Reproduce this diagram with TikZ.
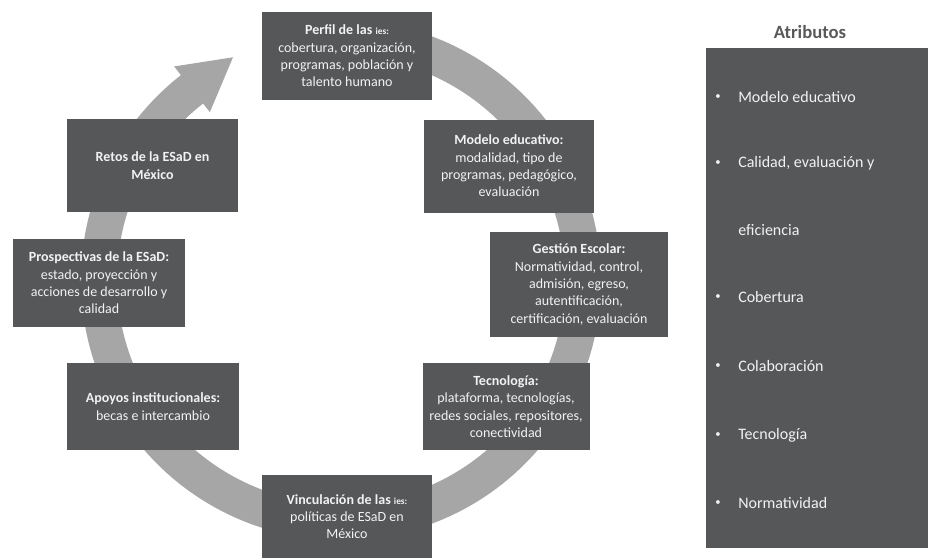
\documentclass[tikz,border=0pt]{standalone}
\usepackage{fontspec}
\setmainfont{Carlito}
\usetikzlibrary{calc,backgrounds}
\definecolor{boxgray}{RGB}{85,87,89}
\definecolor{ringgray}{RGB}{166,166,166}
\definecolor{titlegray}{RGB}{89,89,89}
\definecolor{lighttext}{RGB}{242,242,242}

\begin{document}
\begin{tikzpicture}[x=0.75pt,y=0.75pt,
  every node/.style={font=\fontsize{10.5}{13}\selectfont},
  topic/.style={fill=boxgray, text=lighttext, align=center, inner sep=3pt},
  sz/.style 2 args={minimum width=#1*0.75pt, minimum height=#2*0.75pt},
  attr/.style={text=lighttext, anchor=west, inner sep=0pt,
    font=\fontsize{12}{14}\selectfont},
  dot/.style={text=lighttext, inner sep=0pt, font=\fontsize{8}{8}\selectfont},
  ring/.style={ringgray, line width=27pt},
]
\useasboundingbox (0,0) rectangle (940,-558);

\coordinate (C) at (341,-280);

\node[topic, sz={170}{88}]  at (347,-56)    (perfil)  {\textbf{Perfil de las {\scriptsize ies:}}\\cobertura, organización,\\programas, población y\\talento humano};
\node[topic, sz={170}{93}]  at (509,-166)   (modelo)  {\textbf{Modelo educativo:}\\modalidad, tipo de\\programas, pedagógico,\\evaluación};
\node[topic, sz={178}{105}] at (579,-284.5) (gestion) {\textbf{Gestión Escolar:}\\Normatividad, control,\\admisión, egreso,\\autentificación,\\certificación, evaluación};
\node[topic, sz={167}{87}]  at (506,-406.5) (tecno)   {\textbf{Tecnología:}\\plataforma, tecnologías,\\redes sociales, repositores,\\conectividad};
\node[topic, sz={170}{83}]  at (347,-516.5) (vincula) {\textbf{Vinculación de las {\scriptsize ies:}}\\políticas de ESaD en\\México};
\node[topic, sz={172}{87}]  at (153,-406.5) (apoyos)  {\textbf{Apoyos institucionales:}\\becas e intercambio};
\node[topic, sz={172}{88}]  at (99,-283)    (prosp)   {\textbf{Prospectivas de la ESaD:}\\estado, proyección y\\acciones de desarrollo y\\calidad};
\node[topic, sz={171}{93}]  at (152.5,-165.5) (retos) {\textbf{Retos de la ESaD en}\\\textbf{México}};

\begin{pgfonlayer}{background}
\draw[ring] ($(C)+(97:242)$) arc[start angle=97, end angle=-232.5, radius=242];
\fill[ringgray] ($(C)+(128:271)$) -- ($(C)+(128:242)+(38:52)$) -- ($(C)+(128:213)$) -- cycle;
\end{pgfonlayer}

\node[text=titlegray, font=\bfseries\fontsize{14}{16}\selectfont] at (810,-32) (titulo) {Atributos};
\node[fill=boxgray, sz={222}{500}, inner sep=0pt] at (817,-298) (panel) {};

\foreach \yy [count=\i] in {97,163,297,366,435,503}
  \node[dot] at (718,-\yy) (b\i) {•};

\node[attr] at (738,-97)  (a1) {Modelo educativo};
\node[attr] at (738,-163) (a2) {Calidad, evaluación y};
\node[attr] at (738,-230) (a3) {eficiencia};
\node[attr] at (738,-297) (a4) {Cobertura};
\node[attr] at (738,-366) (a5) {Colaboración};
\node[attr] at (738,-435) (a6) {Tecnología};
\node[attr] at (738,-503) (a7) {Normatividad};
\end{tikzpicture}
\end{document}
